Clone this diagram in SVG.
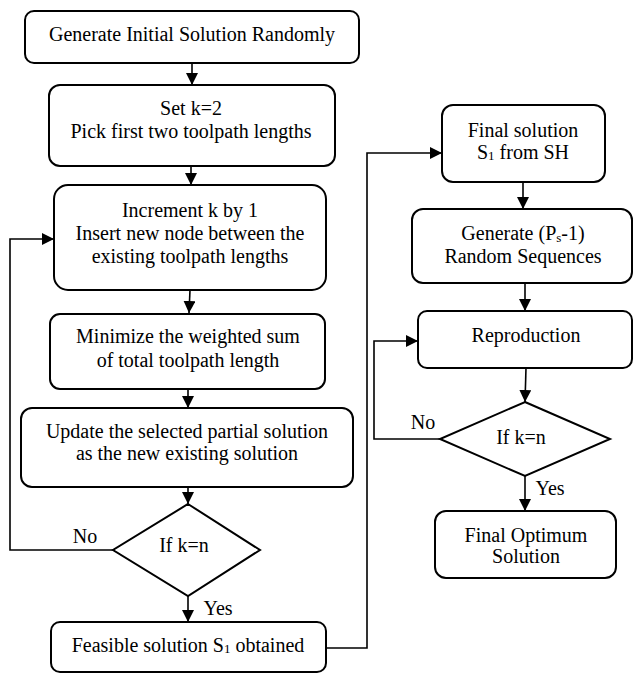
<svg xmlns="http://www.w3.org/2000/svg" width="633" height="673" viewBox="0 0 633 673">
<style>
.n{fill:#fff;stroke:#000;stroke-width:2}
.c{fill:none;stroke:#000;stroke-width:1.6;marker-end:url(#ah)}
.t{font-family:'Liberation Serif',serif;font-size:20px;fill:#000;text-anchor:middle}
.sub{font-size:13px}
</style>
<defs>
<marker id="ah" viewBox="0 0 12 12" refX="12" refY="6" markerWidth="12" markerHeight="12" markerUnits="userSpaceOnUse" orient="auto">
<path d="M0,0 L12,6 L0,12 Z" fill="#000"/>
</marker>
</defs>
<rect width="633" height="673" fill="#fff"/>
<g id="connectors">
<path class="c" d="M192,63 V85"/>
<path class="c" d="M191,166 V185"/>
<path class="c" d="M190,290 L189,313"/>
<path class="c" d="M188,389 V408"/>
<path class="c" d="M188,487 V504"/>
<path class="c" d="M113,550 H10 V239 H54"/>
<path class="c" d="M188,596 V622"/>
<path class="c" d="M326,648 H367 V153 H442"/>
<path class="c" d="M523,182 V209"/>
<path class="c" d="M525,283 V311"/>
<path class="c" d="M526,368 L525,402"/>
<path class="c" d="M440,439 H374 V341 H418"/>
<path class="c" d="M525,476 V511"/>
</g>
<g id="n1"><rect class="n" x="25" y="11" width="334" height="52" rx="9"/><text class="t" x="192" y="41">Generate Initial Solution Randomly</text></g>
<g id="n2"><rect class="n" x="49" y="85" width="286" height="81" rx="11"/><text class="t" x="191" y="115">Set k=2</text><text class="t" x="191" y="138">Pick first two toolpath lengths</text></g>
<g id="n3"><rect class="n" x="54" y="185" width="272" height="105" rx="14"/><text class="t" x="190" y="217">Increment k by 1</text><text class="t" x="190" y="240">Insert new node between the</text><text class="t" x="190" y="263">existing toolpath lengths</text></g>
<g id="n4"><rect class="n" x="50" y="314" width="275" height="75" rx="10"/><text class="t" x="188" y="343">Minimize the weighted sum</text><text class="t" x="188" y="367">of total toolpath length</text></g>
<g id="n5"><rect class="n" x="21" y="408" width="332" height="79" rx="11"/><text class="t" x="187" y="438">Update the selected partial solution</text><text class="t" x="187" y="460">as the new existing solution</text></g>
<g id="d1"><path class="n" d="M188,504 L260,550 L188,596 L113,550 Z"/><text class="t" x="184" y="552">If k=n</text><text class="t" x="85" y="543">No</text><text class="t" x="218" y="615">Yes</text></g>
<g id="n6"><rect class="n" x="51" y="622" width="275" height="50" rx="9"/><text class="t" x="188" y="652">Feasible solution S<tspan class="sub" dy="1">1</tspan><tspan dy="-1"> obtained</tspan></text></g>
<g id="n7"><rect class="n" x="442" y="105" width="163" height="77" rx="11"/><text class="t" x="523" y="137">Final solution</text><text class="t" x="523" y="159">S<tspan class="sub" dy="1">1</tspan><tspan dy="-1"> from SH</tspan></text></g>
<g id="n8"><rect class="n" x="412" y="209" width="220" height="74" rx="11"/><text class="t" x="523" y="240">Generate (P<tspan class="sub" dy="2">s</tspan><tspan dy="-2">-1)</tspan></text><text class="t" x="523" y="263">Random Sequences</text></g>
<g id="n9"><rect class="n" x="418" y="311" width="214" height="57" rx="9"/><text class="t" x="526" y="342">Reproduction</text></g>
<g id="d2"><path class="n" d="M525,402 L610,439 L525,476 L440,439 Z"/><text class="t" x="521" y="444">If k=n</text><text class="t" x="423" y="429">No</text><text class="t" x="550" y="495">Yes</text></g>
<g id="n10"><rect class="n" x="435" y="511" width="181" height="67" rx="11"/><text class="t" x="526" y="542">Final Optimum</text><text class="t" x="526" y="563">Solution</text></g>
</svg>
